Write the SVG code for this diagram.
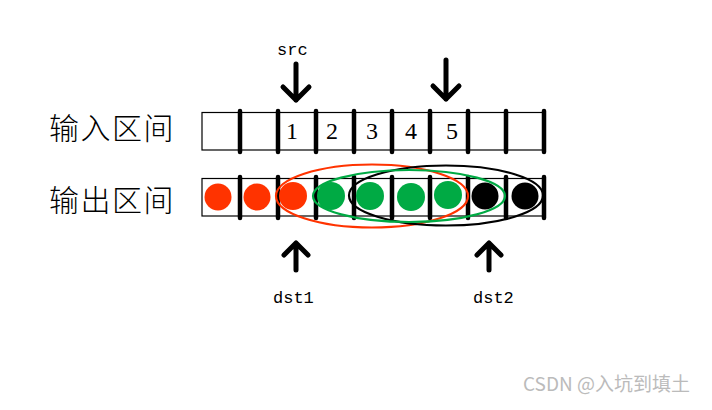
<svg xmlns="http://www.w3.org/2000/svg" width="712" height="410" viewBox="0 0 712 410">
<style>
.box{fill:#fff;stroke:#000;stroke-width:1.2}
.bar{stroke:#000;stroke-width:4.5;stroke-linecap:round}
.arr{fill:none;stroke:#000;stroke-width:5;stroke-linecap:round;stroke-linejoin:round}
.num{font-family:"Liberation Serif","DejaVu Serif",serif;font-size:24px;text-anchor:middle;fill:#000}
.mono{font-family:"Liberation Mono","DejaVu Sans Mono",monospace;font-size:17px;fill:#000}
.cn{font-family:"Noto Sans CJK SC",sans-serif;font-size:30px;font-weight:300;letter-spacing:1.5px;fill:#000}
.red{fill:#ff3300}.green{fill:#00aa44}.blk{fill:#000}
.ell{fill:none;stroke-width:2.2}
</style>
<rect width="712" height="410" fill="#fff"/>
<g id="labels">
<text class="cn" x="49" y="139">输入区间</text>
<text class="cn" x="49" y="211">输出区间</text>
</g>
<g id="input-row">
<rect class="box" x="202" y="112.5" width="342" height="37.5"/>
<g>
<line class="bar" x1="240" y1="111" x2="240" y2="152"/>
<line class="bar" x1="278" y1="111" x2="278" y2="152"/>
<line class="bar" x1="316" y1="111" x2="316" y2="152"/>
<line class="bar" x1="354" y1="111" x2="354" y2="152"/>
<line class="bar" x1="392" y1="111" x2="392" y2="152"/>
<line class="bar" x1="430" y1="111" x2="430" y2="152"/>
<line class="bar" x1="468" y1="111" x2="468" y2="152"/>
<line class="bar" x1="506" y1="111" x2="506" y2="152"/>
<line class="bar" x1="544" y1="111" x2="544" y2="152"/>
</g>
<text class="num" x="292" y="139">1</text>
<text class="num" x="332" y="139">2</text>
<text class="num" x="372" y="139">3</text>
<text class="num" x="411" y="139">4</text>
<text class="num" x="452" y="139">5</text>
</g>
<g id="output-row">
<rect class="box" x="202" y="178.5" width="342" height="37.5"/>
<g>
<line class="bar" x1="240" y1="177" x2="240" y2="218"/>
<line class="bar" x1="278" y1="177" x2="278" y2="218"/>
<line class="bar" x1="316" y1="177" x2="316" y2="218"/>
<line class="bar" x1="354" y1="177" x2="354" y2="218"/>
<line class="bar" x1="392" y1="177" x2="392" y2="218"/>
<line class="bar" x1="430" y1="177" x2="430" y2="218"/>
<line class="bar" x1="468" y1="177" x2="468" y2="218"/>
<line class="bar" x1="506" y1="177" x2="506" y2="218"/>
<line class="bar" x1="544" y1="177" x2="544" y2="218"/>
</g>
<circle class="red" cx="218" cy="197" r="13.5"/>
<circle class="red" cx="257" cy="197" r="13.5"/>
<circle class="red" cx="293" cy="196" r="14"/>
<circle class="green" cx="331" cy="196" r="14"/>
<circle class="green" cx="370" cy="196" r="14"/>
<circle class="green" cx="411" cy="197" r="14"/>
<circle class="green" cx="448" cy="195" r="14"/>
<circle class="blk" cx="485" cy="196" r="13.5"/>
<circle class="blk" cx="525" cy="196" r="13.5"/>
</g>
<g id="windows">
<ellipse class="ell" cx="372" cy="196" rx="96" ry="31.5" stroke="#ff3300"/>
<ellipse class="ell" cx="446" cy="195.5" rx="97" ry="30" stroke="#000" stroke-width="2.6"/>
<ellipse class="ell" cx="409" cy="196" rx="96" ry="26" stroke="#00aa44"/>
</g>
<g id="connectors">
<path class="arr" d="M296,64 V100 M283,87 L296,100 L309,87"/>
<path class="arr" d="M446,60 V99 M433,86 L446,99 L459,86"/>
<path class="arr" d="M296,270 V243 M284,255 L296,243 L308,255"/>
<path class="arr" d="M489,270 V243 M477,255 L489,243 L501,255"/>
</g>
<g id="pointer-labels">
<text class="mono" x="277" y="55">src</text>
<text class="mono" x="273" y="303">dst1</text>
<text class="mono" x="473" y="303">dst2</text>
</g>
<text x="523" y="391" font-family="Noto Sans CJK SC,sans-serif" font-size="19" fill="#bbbbbb">CSDN @入坑到填土</text>
</svg>
